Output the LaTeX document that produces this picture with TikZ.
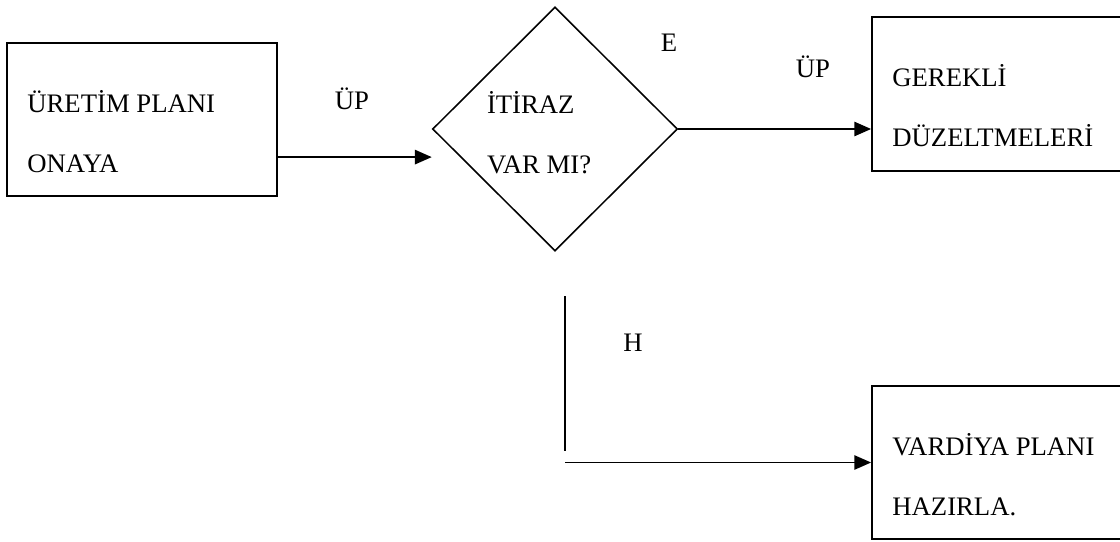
\documentclass[tikz,border=0pt]{standalone}
\usepackage{fontspec}
\setmainfont{Liberation Serif}
\usetikzlibrary{arrows.meta,positioning,shapes.geometric}

\begin{document}
\begin{tikzpicture}[
  box/.style={draw, line width=1.3pt, inner sep=0pt},
  txt/.style={inner sep=0pt, align=left, font=\fontsize{19pt}{42.7pt}\selectfont},
  lbl/.style={inner sep=0pt, anchor=base, font=\fontsize{19pt}{22pt}\selectfont},
  arr/.style={line width=1.1pt, -{Triangle[length=0.42cm, width=0.36cm]}}]
  \clip (0,0) rectangle (28,13.525);

  % Production plan
  \node[box, minimum width=6.75cm, minimum height=3.825cm] (onay) at (3.55,10.5375) {};
  \node[txt, right=0.525cm of onay.west, yshift=-0.3cm] (onaytxt) {ÜRETİM PLANI\\ONAYA};

  % Decision
  \node[draw, diamond, line width=1.1pt, minimum width=6.125cm, minimum height=6.1cm, inner sep=0pt] (itiraz) at (13.875,10.3) {};
  \node[txt, right=1.375cm of itiraz.west, yshift=-0.1cm] (itiraztxt) {İTİRAZ\\VAR MI?};

  % Corrections
  \node[box, minimum width=6.325cm, minimum height=3.85cm] (duzelt) at (24.9625,11.175) {};
  \node[txt, right=0.525cm of duzelt.west, yshift=-0.3cm] (duzelttxt) {GEREKLİ\\DÜZELTMELERİ};

  % Shift plan
  \node[box, minimum width=6.325cm, minimum height=3.825cm] (vardiya) at (24.9625,1.9625) {};
  \node[txt, right=0.525cm of vardiya.west, yshift=-0.3cm] (vardiyatxt) {VARDİYA PLANI\\HAZIRLA.};

  % Labels
  \node[lbl] (up1) at (8.8,10.7875) {ÜP};
  \node[lbl] (evet) at (16.725,12.225) {E};
  \node[lbl] (up2) at (20.325,11.5875) {ÜP};
  \node[lbl] (hayir) at (15.825,4.75) {H};

  % Connectors
  \coordinate (onayout) at ([yshift=-0.94cm]onay.east);
  \coordinate (htop) at (14.125,6.125);
  \coordinate (hbot) at (14.125,2.25);
  \draw[arr] (onayout) -- (onayout -| itiraz.west);
  \draw[arr] (itiraz.east) -- (itiraz.east -| duzelt.west);
  \draw[line width=1.1pt] (htop) -- (hbot);
  \draw[arr] (vardiya.west -| htop) -- (vardiya.west);
\end{tikzpicture}
\end{document}
